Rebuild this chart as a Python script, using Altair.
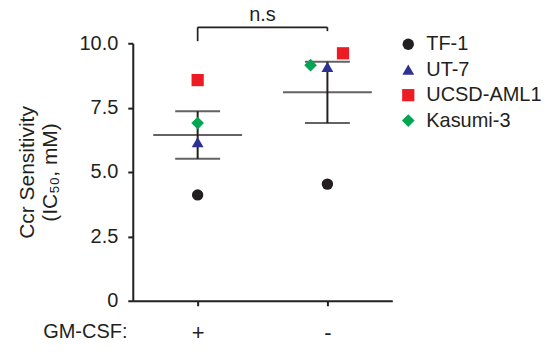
import altair as alt
import pandas as pd
import numpy as np

# ---- data ----
groups = ["+", "-"]
group_pos = [1, 2]
cell_lines = ["TF-1", "UT-7", "UCSD-AML1", "Kasumi-3"]
ic50_plus = [4.11, 6.16, 8.57, 6.90]
ic50_minus = [4.53, 9.08, 9.61, 9.15]
jitter_plus = [0.0, 0.0, 0.0, 0.0]
jitter_minus = [0.0, 0.0, 0.12, -0.13]
colors = ["#231f20", "#2e3192", "#ed1c24", "#00a651"]
shapes = ["circle", "triangle-up", "square", "diamond"]
sizes = [130, 160, 140, 190]
y_ticks = [0, 2.5, 5, 7.5, 10]

# significance bracket (data units)
bracket_x = [1, 1, 2]
bracket_x2 = [2, 1, 2]
bracket_y = [10.62, 10.62, 10.62]
bracket_y2 = [10.62, 10.08, 10.47]
sig_label = "n.s"

FONT = "Liberation Sans"
INK = "#231f20"

rows = []
for g, pos, vals, jit in [("+", 1, ic50_plus, jitter_plus), ("-", 2, ic50_minus, jitter_minus)]:
    for name, v, j in zip(cell_lines, vals, jit):
        rows.append({"group": g, "x": pos + j, "value": v, "line": name})
pts = pd.DataFrame(rows)

stats = []
for g, pos, vals in [("+", 1, ic50_plus), ("-", 2, ic50_minus)]:
    a = np.array(vals)
    m = a.mean()
    sem = a.std(ddof=1) / np.sqrt(len(a))
    stats.append({"x": pos, "mean": m, "lo": m - sem, "hi": m + sem})
stats = pd.DataFrame(stats)

br = pd.DataFrame({"x": bracket_x, "x2": bracket_x2, "y": bracket_y, "y2": bracket_y2})
lab = pd.DataFrame({"x": [1.5], "y": [10.86], "t": [sig_label]})

xscale = alt.Scale(domain=[0.5, 2.5], nice=False, zero=False)
yscale = alt.Scale(domain=[0, 10], nice=False)

xaxis = alt.Axis(
    values=group_pos, labelExpr="datum.value == 1 ? '+' : '-'",
    title="GM-CSF:", titleX=-48, titleY=37, titleAlign="center", titleBaseline="alphabetic",
    titleAngle=0, titleFontWeight="normal", titleFontSize=20, titleFont=FONT, titleColor=INK,
    labelFontSize=22, labelFont=FONT, labelColor=INK, labelPadding=17,
    tickSize=5, tickWidth=2, tickColor=INK, domainColor=INK, domainWidth=2, grid=False,
)
yaxis = alt.Axis(
    values=y_ticks, labelExpr="datum.value == 0 ? '0' : format(datum.value, '.1f')",
    title=["Ccr Sensitivity", "(IC₅₀, mM)"], titleFontWeight="normal", titleFontSize=21,
    titleFont=FONT, titleColor=INK, titlePadding=18, titleLineHeight=24,
    labelFontSize=20, labelFont=FONT, labelColor=INK, labelPadding=10,
    tickSize=5, tickWidth=2, tickColor=INK, domainColor=INK, domainWidth=2, grid=False,
)

x_enc = alt.X("x:Q", scale=xscale, axis=xaxis)
base_stats = alt.Chart(stats)

vbar = base_stats.mark_rule(color=INK, strokeWidth=2).encode(
    x=x_enc, y=alt.Y("lo:Q", scale=yscale, axis=yaxis), y2="hi:Q")
cap_lo = base_stats.mark_tick(orient="horizontal", size=45, thickness=2, color=INK).encode(
    x="x:Q", y="lo:Q")
cap_hi = base_stats.mark_tick(orient="horizontal", size=45, thickness=2, color=INK).encode(
    x="x:Q", y="hi:Q")
mean_t = base_stats.mark_tick(orient="horizontal", size=89, thickness=2, color=INK).encode(
    x="x:Q", y="mean:Q")

points = alt.Chart(pts).mark_point(filled=True, opacity=1).encode(
    x="x:Q", y="value:Q",
    color=alt.Color("line:N", scale=alt.Scale(domain=cell_lines, range=colors), legend=alt.Legend(
        title=None, orient="none", legendX=266, legendY=-9, labelFontSize=20, labelFont=FONT,
        labelColor=INK, labelOffset=8, rowPadding=5.5, padding=0, symbolOpacity=1)),
    shape=alt.Shape("line:N", scale=alt.Scale(domain=cell_lines, range=shapes)),
    size=alt.Size("line:N", scale=alt.Scale(domain=cell_lines, range=sizes)),
)

bracket = alt.Chart(br).mark_rule(color=INK, strokeWidth=1.7).encode(
    x="x:Q", x2="x2:Q", y="y:Q", y2="y2:Q")
sig = alt.Chart(lab).mark_text(font=FONT, fontSize=20, color=INK, baseline="alphabetic").encode(
    x="x:Q", y="y:Q", text="t:N")

chart = alt.layer(vbar, cap_lo, cap_hi, mean_t, points, bracket, sig).properties(
    width=260, height=258,
    autosize=alt.AutoSizeParams(type="none"),
    padding={"left": 125, "top": 35, "right": 160, "bottom": 45},
).configure_view(stroke=None).configure_legend(symbolStrokeWidth=0)

chart.save("out.html", embed_options={"renderer": "svg", "actions": False})
